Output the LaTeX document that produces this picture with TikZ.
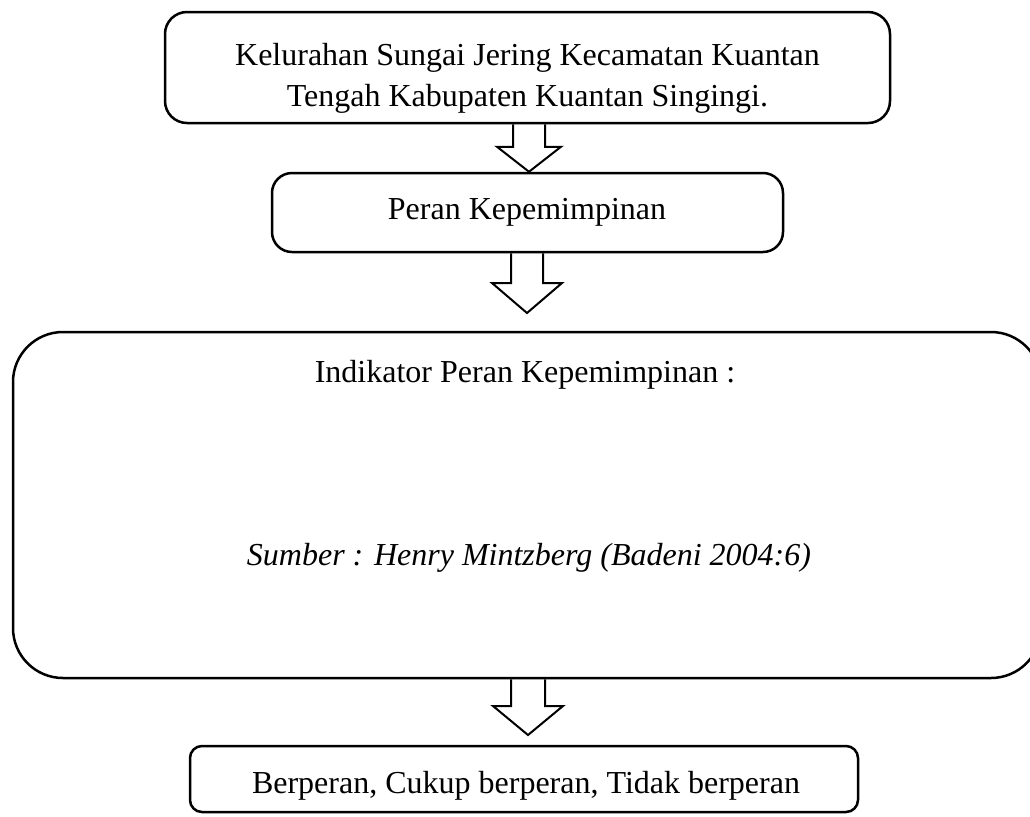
\documentclass[tikz,border=0pt]{standalone}
\usepackage{fontspec}
\setmainfont{Liberation Serif}
\usetikzlibrary{calc}
\begin{document}
\begin{tikzpicture}[x=0.5pt,y=-0.5pt,
  box/.style={draw=black,line width=1.25pt,inner sep=0pt,rounded corners=#1},
  box/.default=10pt,
  txt/.style={font=\fontsize{16}{20.5}\selectfont,align=center,inner sep=0pt},
  blk/.style={draw=black,line width=1pt,line join=miter}]
\useasboundingbox (0,0) rectangle (1030,816);
\clip (0,0) rectangle (1030,816);
% boxes
\node[box=11pt,minimum width=362.5pt,minimum height=55.5pt] (n1) at (527.5,67.5) {};
\node[box=10pt,minimum width=255.5pt,minimum height=39.5pt] (n2) at (527.5,212.5) {};
\node[box=25pt,minimum width=514pt,minimum height=173pt] (n3) at (527,505) {};
\node[box=6pt,minimum width=334pt,minimum height=33pt] (n4) at (524,779) {};
% texts
\node[txt] (t1) at (527.5,78) {Kelurahan Sungai Jering Kecamatan Kuantan\\Tengah Kabupaten Kuantan Singingi.};
\node[txt] (t2) at (527,212) {Peran Kepemimpinan};
\node[txt] (t3) at (525,375) {Indikator Peran Kepemimpinan :};
\node[txt,font=\fontsize{16}{20.5}\selectfont\itshape] (t4) at (529,558) {Sumber : Henry Mintzberg (Badeni 2004:6)};
\node[txt] (t5) at (526,786) {Berperan, Cukup berperan, Tidak berperan};
% arrow axes
\coordinate (ax1) at (529,0);
\coordinate (ax2) at (527,0);
\coordinate (ax3) at (528,0);
\coordinate (tip2) at (527,313);
\coordinate (tip3) at (528,735);
% block arrows
\draw[blk] ($(n1.south -| ax1)+(-16,0)$) -- ($(n2.north -| ax1)+(-16,-25)$) -- ($(n2.north -| ax1)+(-32,-25)$) -- (n2.north -| ax1) -- ($(n2.north -| ax1)+(32,-25)$) -- ($(n2.north -| ax1)+(16,-25)$) -- ($(n1.south -| ax1)+(16,0)$);
\draw[blk] ($(n2.south -| ax2)+(-16,0)$) -- ($(tip2)+(-16,-30)$) -- ($(tip2)+(-35,-30)$) -- (tip2) -- ($(tip2)+(35,-30)$) -- ($(tip2)+(16,-30)$) -- ($(n2.south -| ax2)+(16,0)$);
\draw[blk] ($(n3.south -| ax3)+(-17,0)$) -- ($(tip3)+(-17,-29)$) -- ($(tip3)+(-35,-29)$) -- (tip3) -- ($(tip3)+(35,-29)$) -- ($(tip3)+(17,-29)$) -- ($(n3.south -| ax3)+(17,0)$);
\end{tikzpicture}
\end{document}
